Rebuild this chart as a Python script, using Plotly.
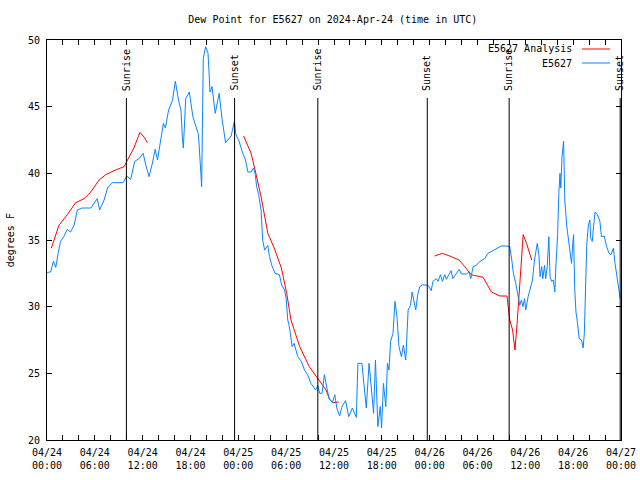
import pandas as pd
import plotly.graph_objects as go

BASE = pd.Timestamp("2024-04-24 00:00")

# Hours since 2024-04-24 00:00 UTC and dew point (F)
obs_hours = [0.0, 0.45, 0.8, 1.1, 1.4, 1.7, 2.1, 2.55, 2.95, 3.4, 3.8, 4.4, 5.5, 5.9, 6.3, 6.6, 7.16, 7.6, 8.2, 9.55,
             10.0, 10.5, 11.0, 11.55, 12.06, 12.4, 12.8, 13.2, 13.57, 13.86, 14.3, 14.6, 14.85, 15.25, 15.75, 16.1, 16.5, 16.8, 17.0, 17.1,
             17.4, 17.85, 18.3, 18.7, 19.0, 19.3, 19.4, 19.6, 19.9, 20.2, 20.45, 20.7, 21.1, 21.6, 21.95, 22.4, 23.1, 23.5, 23.7, 24.1,
             24.55, 24.9, 25.2, 25.6, 25.9, 26.1, 26.3, 26.55, 26.85, 27.05, 27.3, 27.7, 27.9, 28.2, 28.6, 29.15, 29.45, 29.8, 30.0, 30.2,
             30.4, 30.75, 31.0, 31.45, 31.9, 32.3, 32.7, 33.1, 33.7, 33.97, 34.2, 34.5, 34.8, 35.1, 35.4, 35.8, 36.1, 36.35, 36.7, 37.0,
             37.45, 37.85, 38.3, 38.8, 39.0, 39.5, 39.85, 40.05, 40.4, 40.7, 40.97, 41.2, 41.5, 41.8, 41.97, 42.2, 42.5, 42.7, 42.9, 43.1,
             43.4, 43.65, 43.9, 44.15, 44.45, 44.7, 45.0, 45.3, 45.6, 45.8, 46.0, 46.25, 46.5, 46.75, 47.15, 47.8, 48.2, 48.4, 48.85, 49.05,
             49.35, 49.6, 49.9, 50.1, 50.4, 50.7, 50.9, 51.35, 51.7, 51.98, 52.6, 52.95, 53.15, 53.45, 53.85, 54.3, 54.9, 55.3, 55.95, 56.6,
             57.0, 57.7, 58.05, 58.3, 58.5, 58.8, 59.05, 59.3, 59.5, 59.7, 59.9, 60.05, 60.35, 60.6, 60.9, 61.15, 61.35, 61.5, 61.7, 61.85,
             62.05, 62.2, 62.4, 62.55, 62.75, 62.95, 63.1, 63.3, 63.5, 63.7, 63.85, 64.05, 64.2, 64.35, 64.45, 64.6, 64.8, 64.95, 65.2, 65.4,
             65.6, 65.8, 65.95, 66.05, 66.2, 66.35, 66.55, 66.75, 67.05, 67.25, 67.4, 67.55, 67.7, 67.9, 68.1, 68.2, 68.4, 68.55, 68.75, 69.05,
             69.35, 69.55, 69.9, 70.2, 70.5, 70.75, 71.05, 71.25, 71.5, 71.7, 71.9]
obs_dewpt = [32.57, 32.6, 33.4, 32.95, 34.0, 34.9, 35.25, 35.8, 35.6, 36.1, 37.25, 37.4, 37.4, 37.75, 38.1, 37.25, 38.0, 38.9, 39.3, 39.3,
             39.8, 39.55, 40.9, 41.1, 41.5, 40.6, 39.75, 40.7, 41.8, 41.0, 42.75, 43.75, 43.4, 44.75, 45.5, 46.9, 45.5, 44.75, 42.5, 41.9,
             45.6, 46.1, 44.25, 43.5, 42.9, 40.0, 39.0, 48.6, 49.5, 49.0, 46.1, 46.5, 44.5, 46.0, 44.1, 42.3, 42.8, 43.9, 42.9, 42.4,
             41.5, 41.0, 40.1, 40.1, 40.4, 40.0, 39.0, 38.4, 37.25, 35.0, 34.25, 34.6, 33.75, 33.1, 32.5, 32.4, 31.6, 31.25, 30.6, 29.0,
             28.5, 27.0, 27.25, 26.25, 25.9, 25.25, 24.9, 24.25, 23.75, 24.1, 23.5, 23.5, 24.9, 23.9, 23.1, 22.8, 23.4, 22.4, 21.8, 22.5,
             22.95, 21.75, 22.4, 21.7, 25.75, 25.75, 23.25, 22.4, 25.75, 23.5, 22.0, 26.0, 21.0, 22.5, 20.9, 24.25, 22.5, 25.75, 25.25, 27.4,
             28.0, 30.4, 29.25, 27.0, 26.25, 27.1, 26.0, 29.75, 30.1, 31.1, 30.5, 29.75, 30.9, 31.5, 31.65, 31.6, 31.2, 31.9, 32.1, 31.9,
             32.4, 31.9, 32.4, 32.05, 32.4, 32.7, 32.1, 32.5, 32.8, 32.45, 32.45, 32.6, 32.1, 33.0, 33.1, 33.4, 33.6, 34.0, 34.2, 34.4,
             34.55, 34.55, 34.5, 33.5, 32.5, 31.75, 30.75, 30.1, 30.5, 30.0, 30.6, 29.75, 30.75, 31.25, 32.0, 33.5, 34.4, 34.75, 33.9, 32.25,
             33.0, 32.1, 33.1, 32.1, 33.0, 35.25, 32.25, 31.9, 32.0, 31.1, 33.25, 35.4, 38.5, 40.0, 38.9, 41.25, 42.4, 38.0, 36.0, 35.0,
             34.1, 33.25, 34.75, 35.4, 31.25, 29.6, 28.75, 27.6, 27.5, 26.9, 28.0, 32.5, 34.6, 36.1, 36.5, 35.1, 34.9, 36.0, 37.1, 36.9,
             36.4, 35.25, 35.3, 34.5, 34.0, 33.9, 34.4, 33.25, 32.25, 31.25, 30.6]

# Analysis series, three separate runs
ana1_hours = [0.54, 1.5, 2.55, 3.6, 4.65, 5.5, 6.53, 7.37, 8.4, 9.67, 10.1, 10.9, 11.65, 12.2, 12.6]
ana1_dewpt = [34.38, 36.1, 36.9, 37.8, 38.1, 38.6, 39.5, 39.9, 40.2, 40.5, 41.0, 41.9, 43.07, 42.7, 42.3]
ana2_hours = [24.67, 25.6, 26.2, 26.85, 27.7, 28.5, 29.4, 30.07, 30.6, 31.7, 32.9, 33.97, 35.0, 35.4, 35.85, 36.6]
ana2_dewpt = [42.8, 41.5, 40.0, 38.25, 35.5, 34.4, 32.9, 31.0, 29.0, 27.0, 25.5, 24.6, 23.75, 23.1, 22.8, 22.85]
ana3_hours = [48.6, 49.6, 50.5, 51.7, 52.4, 53.2, 54.7, 55.75, 56.8, 57.7, 57.85, 58.05, 58.4, 58.7, 58.97, 59.4, 59.73, 60.15, 60.8]
ana3_dewpt = [33.8, 34.0, 33.8, 33.5, 33.0, 32.4, 32.2, 31.1, 30.8, 30.8, 30.0, 29.0, 28.25, 26.75, 28.75, 32.75, 35.4, 34.75, 33.5]

sun_hours = [9.96, 23.53, 33.97, 47.7, 57.97, 71.9]
sun_labels = ["Sunrise", "Sunset", "Sunrise", "Sunset", "Sunrise", "Sunset"]

tick_hours = list(range(0, 73, 2))
ytick_vals = [20, 25, 30, 35, 40, 45, 50]

series_names = ["E5627 Analysis", "E5627"]
series_colors = ["#ff0000", "#0a84ff"]


def to_time(hours):
    return [BASE + pd.Timedelta(hours=h) for h in hours]


FONT = "DejaVu Sans Mono"
fig = go.Figure()

ana_x = to_time(ana1_hours) + [None] + to_time(ana2_hours) + [None] + to_time(ana3_hours)
ana_y = ana1_dewpt + [None] + ana2_dewpt + [None] + ana3_dewpt
fig.add_trace(go.Scatter(x=ana_x, y=ana_y, mode="lines", name=series_names[0],
                         line=dict(color=series_colors[0], width=1), connectgaps=False, showlegend=False))
fig.add_trace(go.Scatter(x=to_time(obs_hours), y=obs_dewpt, mode="lines", name=series_names[1],
                         line=dict(color=series_colors[1], width=1), showlegend=False))

shapes = []
annotations = []
for h, lab in zip(sun_hours, sun_labels):
    t = BASE + pd.Timedelta(hours=h)
    shapes.append(dict(type="line", xref="x", yref="paper", x0=t, x1=t, y0=0, y1=0.855,
                       line=dict(color="black", width=1)))
    annotations.append(dict(x=t, xref="x", y=0.868, yref="paper", text=lab, textangle=-90,
                            showarrow=False, xanchor="center", yanchor="bottom",
                            font=dict(family=FONT, size=10, color="black")))

# gnuplot-style legend (text left of sample line)
for i, (name, col) in enumerate(zip(series_names, series_colors)):
    yp = 0.9775 - i * 0.035
    annotations.append(dict(x=0.918, xref="paper", y=yp, yref="paper", text=name, showarrow=False,
                            xanchor="right", yanchor="middle", font=dict(family=FONT, size=10, color="black")))
    shapes.append(dict(type="line", xref="paper", yref="paper", x0=0.932, x1=0.981, y0=yp, y1=yp,
                       line=dict(color=col, width=1)))

annotations.append(dict(x=-0.064, xref="paper", y=0.5, yref="paper", text="degrees F", textangle=-90,
                        showarrow=False, xanchor="center", yanchor="middle",
                        font=dict(family=FONT, size=10, color="black")))

tickvals = to_time(tick_hours)
ticktext = []
for h, t in zip(tick_hours, tickvals):
    ticktext.append(t.strftime("%m/%d<br>%H:%M") if h % 6 == 0 else "")

fig.update_layout(
    width=640, height=480, autosize=False,
    margin=dict(l=47, r=19, t=40, b=40, autoexpand=False),
    paper_bgcolor="white", plot_bgcolor="white",
    title=dict(text="Dew Point for E5627 on 2024-Apr-24 (time in UTC)", x=0.52, xanchor="center",
               y=0.96, yanchor="middle", font=dict(family=FONT, size=10, color="black")),
    font=dict(family=FONT, size=10, color="black"),
    shapes=shapes, annotations=annotations, showlegend=False,
)
fig.update_xaxes(type="date", range=[BASE, BASE + pd.Timedelta(hours=72)], automargin=False,
                 tickmode="array", tickvals=tickvals, ticktext=ticktext, ticklabelstandoff=3,
                 ticks="inside", ticklen=5, tickcolor="black", showgrid=False, zeroline=False,
                 showline=True, linecolor="black", linewidth=1, mirror="ticks",
                 tickfont=dict(family=FONT, size=10, color="black"))
fig.update_yaxes(range=[20, 50], tickmode="array", tickvals=ytick_vals, automargin=False,
                 ticklabelstandoff=4,
                 ticks="inside", ticklen=5, tickcolor="black", showgrid=False, zeroline=False,
                 showline=True, linecolor="black", linewidth=1, mirror="ticks",
                 tickfont=dict(family=FONT, size=10, color="black"))

post = ("document.documentElement.style.overflow='hidden';"
        "document.body.style.margin='0px';document.body.style.overflow='hidden';")
fig.write_html("out.html", post_script=post,
               config={"displayModeBar": False, "responsive": False})
